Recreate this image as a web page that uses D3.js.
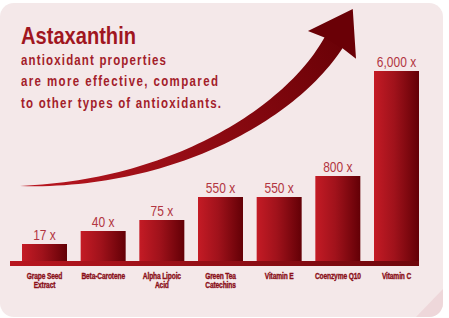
<!DOCTYPE html>
<html>
<head>
<meta charset="utf-8">
<script src="https://cdn.jsdelivr.net/npm/d3@7"></script>
<style>
  html, body { margin: 0; padding: 0; background: #fff; }
  svg { display: block; }
</style>
</head>
<body>
<div id="chart-container"></div>
<script>
// Dữ liệu
const categories = [
  ["Grape Seed", "Extract"],
  ["Beta-Carotene"],
  ["Alpha Lipoic", "Acid"],
  ["Green Tea", "Catechins"],
  ["Vitamin E"],
  ["Coenzyme Q10"],
  ["Vitamin C"]
];
const values = [17, 40, 75, 550, 550, 800, 6000];
const titleText = "Astaxanthin";
const subtitleLines = [
  "antioxidant properties",
  "are more effective, compared",
  "to other types of antioxidants."
];

const width = 449, height = 318;
const baseY = 261;
const font = "'Liberation Sans', Arial, sans-serif";

const svg = d3.select("#chart-container")
  .append("svg")
  .attr("width", width)
  .attr("height", height);

const defs = svg.append("defs");

// gradient cho cột
const barGrad = defs.append("linearGradient")
  .attr("id", "barGrad").attr("x1", 0).attr("x2", 1).attr("y1", 0).attr("y2", 0);
barGrad.append("stop").attr("offset", "0%").attr("stop-color", "#c41b25");
barGrad.append("stop").attr("offset", "45%").attr("stop-color", "#a0121b");
barGrad.append("stop").attr("offset", "100%").attr("stop-color", "#630006");

const baseGrad = defs.append("linearGradient")
  .attr("id", "baseGrad").attr("x1", 0).attr("x2", 1).attr("y1", 0).attr("y2", 0);
baseGrad.append("stop").attr("offset", "0%").attr("stop-color", "#b8161f");
baseGrad.append("stop").attr("offset", "100%").attr("stop-color", "#6e070c");

const arrowGrad = defs.append("linearGradient")
  .attr("id", "arrowGrad").attr("gradientUnits", "userSpaceOnUse")
  .attr("x1", 20).attr("y1", 186).attr("x2", 353).attr("y2", 9);
arrowGrad.append("stop").attr("offset", "0%").attr("stop-color", "#bb1721");
arrowGrad.append("stop").attr("offset", "50%").attr("stop-color", "#8e0a12");
arrowGrad.append("stop").attr("offset", "100%").attr("stop-color", "#650005");

defs.append("clipPath").attr("id", "panelClip")
  .append("rect").attr("x", 0).attr("y", 3).attr("width", 443).attr("height", 314).attr("rx", 14);

// nền
svg.append("rect")
  .attr("x", 0).attr("y", 3).attr("width", 443).attr("height", 314).attr("rx", 14)
  .attr("fill", "#f4e8e9");

svg.append("path")
  .attr("clip-path", "url(#panelClip)")
  .attr("d", "M415,318 L443,289 L443,318 Z")
  .attr("fill", "#eed7da");

// mũi tên cong
const P0 = [20, 186], P1 = [170, 185], P2 = [290, 115], P3 = [334, 42];
function bez(t) {
  const u = 1 - t;
  return [0, 1].map(i => u*u*u*P0[i] + 3*u*u*t*P1[i] + 3*u*t*t*P2[i] + t*t*t*P3[i]);
}
function bezD(t) {
  const u = 1 - t;
  return [0, 1].map(i => 3*u*u*(P1[i]-P0[i]) + 6*u*t*(P2[i]-P1[i]) + 3*t*t*(P3[i]-P2[i]));
}
const sideA = [], sideB = [];
d3.range(0, 61).forEach(k => {
  const t = k / 60;
  const p = bez(t), d = bezD(t);
  const len = Math.hypot(d[0], d[1]);
  const n = [-d[1] / len, d[0] / len];
  const w = 21 * Math.pow(t, 0.85) / 2;
  sideA.push([p[0] + n[0]*w, p[1] + n[1]*w]);
  sideB.push([p[0] - n[0]*w, p[1] - n[1]*w]);
});
const line = d3.line();
svg.append("path")
  .attr("d", line(sideA.concat(sideB.reverse())) + "Z")
  .attr("fill", "url(#arrowGrad)");

// đầu mũi tên
const dEnd = bezD(1), dl = Math.hypot(dEnd[0], dEnd[1]);
const dir = [dEnd[0]/dl, dEnd[1]/dl], nor = [-dir[1], dir[0]];
const pt = (a, b) => [P3[0] + dir[0]*a + nor[0]*b, P3[1] + dir[1]*a + nor[1]*b];
svg.append("path")
  .attr("d", line([pt(-1, -10.5), pt(-4, -28), pt(38, -1), pt(-3, 27.5), pt(-1, 10.5)]) + "Z")
  .attr("fill", "#6a0006");

// thang đo
const xScale = d3.scaleBand()
  .domain(d3.range(values.length))
  .range([22, 419])
  .paddingInner(0.233)
  .paddingOuter(0);

// infographic không theo tỉ lệ tuyến tính -> thang đo từng đoạn
const yScale = d3.scaleLinear()
  .domain([0, 17, 40, 75, 550, 800, 6000])
  .range([baseY, 244, 231, 220, 197, 176, 71]);

// cột
svg.selectAll(".bar")
  .data(values)
  .join("rect")
  .attr("class", "bar")
  .attr("x", (d, i) => xScale(i))
  .attr("y", d => yScale(d))
  .attr("width", xScale.bandwidth())
  .attr("height", d => baseY - yScale(d))
  .attr("fill", "url(#barGrad)");

// đường nền
svg.append("rect")
  .attr("x", 10).attr("y", baseY).attr("width", 409).attr("height", 5)
  .attr("fill", "url(#baseGrad)");

// nhãn giá trị (chữ hẹp = Liberation Sans nén ngang)
svg.selectAll(".val")
  .data(values)
  .join("g")
  .attr("class", "val")
  .attr("transform", (d, i) => `translate(${xScale(i) + xScale.bandwidth() / 2},${yScale(d) - 4}) scale(0.8,1)`)
  .append("text")
  .attr("text-anchor", "middle")
  .style("font-family", font)
  .style("font-size", "15px")
  .style("fill", "#b23541")
  .text(d => `${d3.format(",")(d)} x`);

// nhãn danh mục
svg.selectAll(".cat")
  .data(categories)
  .join("g")
  .attr("class", "cat")
  .attr("transform", (d, i) => `translate(${xScale(i) + xScale.bandwidth() / 2},279) scale(0.74,1)`)
  .append("text")
  .attr("text-anchor", "middle")
  .style("font-family", font)
  .style("font-weight", "bold")
  .style("font-size", "9px")
  .style("letter-spacing", "-0.2px")
  .style("fill", "#8a0f18")
  .style("stroke", "#8a0f18")
  .style("stroke-width", "0.35px")
  .selectAll("tspan")
  .data(d => d)
  .join("tspan")
  .attr("x", 0)
  .attr("dy", (d, i) => i === 0 ? 0 : 9.5)
  .text(d => d);

// tiêu đề
svg.append("text")
  .attr("x", 21).attr("y", 44)
  .attr("textLength", 115)
  .attr("lengthAdjust", "spacingAndGlyphs")
  .style("font-family", font)
  .style("font-weight", "bold")
  .style("font-size", "24px")
  .style("fill", "#a0161f")
  .text(titleText);

const subWidths = [145, 197, 200];
const sx = 0.82;
svg.selectAll(".sub")
  .data(subtitleLines)
  .join("g")
  .attr("class", "sub")
  .attr("transform", (d, i) => `translate(21,${65 + i * 21.3}) scale(${sx},1)`)
  .append("text")
  .attr("textLength", (d, i) => subWidths[i] / sx)
  .attr("lengthAdjust", "spacing")
  .style("font-family", font)
  .style("font-weight", "bold")
  .style("font-size", "14px")
  .style("fill", "#a3202a")
  .text(d => d);
</script>
</body>
</html>
